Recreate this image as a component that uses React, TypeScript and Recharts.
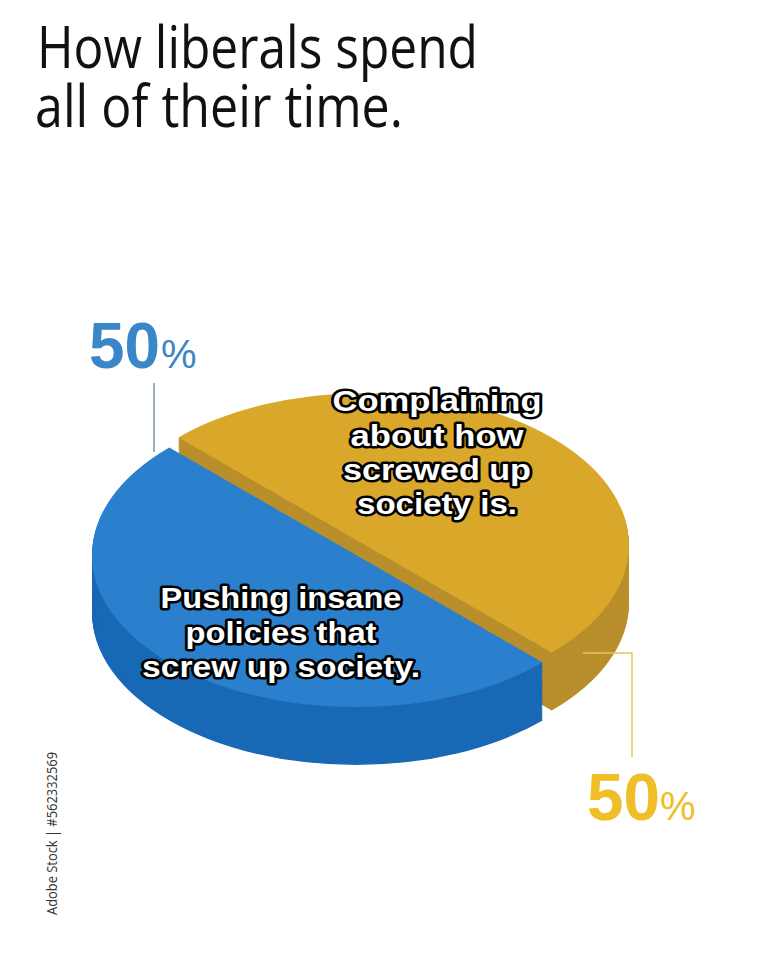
import { PieChart, Pie, Cell } from 'recharts'

// values
const categories = ['Complaining about how screwed up society is.', 'Pushing insane policies that screw up society.']
const shares = [50, 50]
const sliceLines = [
  ['Complaining', 'about how', 'screwed up', 'society is.'],
  ['Pushing insane', 'policies that', 'screw up society.'],
]
const titleLines = ['How liberals spend', 'all of their time.']

const TOP = ['#d9a82b', '#2a80cd']
const SIDE = ['#b98f2c', '#1969b6']
const LABEL = ['#f0be26', '#3a86c8']

// perspective squash + extrusion
const K = 0.576
const CH = Math.round(960 / K)
const DEPTH = 58
const LAYERS = 60
const R = 264
const START = -45
// slice centres on screen (blue slice pulled out to lower-left)
const centres = [
  { x: 365, y: 545 },
  { x: 356, y: 555 },
]

const total = shares.reduce((a, b) => a + b, 0)
const angles = shares.map((v, i) => {
  const before = shares.slice(0, i).reduce((a, b) => a + b, 0)
  return { start: START + (before / total) * 360, end: START + ((before + v) / total) * 360 }
})

const memeText = {
  fontFamily: '"Liberation Sans", Arial, sans-serif',
  fontWeight: 700,
  fontSize: 29,
  fill: '#fff',
  stroke: '#000',
  strokeWidth: 5,
  strokeLinejoin: 'round' as const,
  paintOrder: 'stroke',
}

function sliceLayers(idx: number) {
  const out = []
  for (let i = LAYERS; i >= 0; i--) {
    const y = centres[idx].y + (DEPTH * i) / LAYERS
    out.push(
      <Pie
        key={`${idx}-${i}`}
        data={[{ name: categories[idx], value: shares[idx] }]}
        dataKey="value"
        cx={centres[idx].x}
        cy={y / K}
        outerRadius={R}
        innerRadius={0}
        startAngle={angles[idx].start}
        endAngle={angles[idx].end}
        stroke="none"
        label={false}
        labelLine={false}
        isAnimationActive={false}
      >
        <Cell fill={i === 0 ? TOP[idx] : SIDE[idx]} stroke="none" />
      </Pie>
    )
  }
  return out
}

export default function App() {
  const blocks = [
    { x: 437, ys: [411, 446, 480, 514], widths: [209, 173, 188, 160] },
    { x: 281, ys: [608, 643, 677], widths: [241, 191, 278] },
  ]
  return (
    <div style={{ position: 'absolute', left: 0, top: 0, width: 782, height: 960, background: '#fff', overflow: 'hidden' }}>
      <div style={{ position: 'absolute', left: 0, top: 0, width: 782, height: CH, transform: `scaleY(${K})`, transformOrigin: '0 0' }}>
        <PieChart width={782} height={CH} margin={{ top: 0, right: 0, bottom: 0, left: 0 }}>
          {sliceLayers(0)}
          {sliceLayers(1)}
        </PieChart>
      </div>
      <svg width={782} height={960} style={{ position: 'absolute', left: 0, top: 0 }}>
        <text fontFamily='"Open Sans", sans-serif' fontSize={59} fill="#111" lengthAdjust="spacingAndGlyphs">
          <tspan x={37} y={68} textLength={441} lengthAdjust="spacingAndGlyphs">{titleLines[0]}</tspan>
          <tspan x={35} y={127} textLength={368} lengthAdjust="spacingAndGlyphs">{titleLines[1]}</tspan>
        </text>

        {/* leader lines */}
        <line x1={154} y1={383} x2={154} y2={452} stroke="#7892ad" strokeWidth={1.5} />
        <polyline points="583,653 632,653 632,757" fill="none" stroke="#e6c458" strokeWidth={1.5} />

        {/* percentage labels */}
        <text x={89} y={368} fontFamily='"Liberation Sans", Arial, sans-serif' fontWeight={700} fontSize={64} fill={LABEL[1]} textLength={71} lengthAdjust="spacingAndGlyphs">
          {shares[1]}
        </text>
        <text x={161} y={368} fontFamily='"Liberation Sans", Arial, sans-serif' fontSize={40} fill={LABEL[1]}>%</text>
        <text x={587} y={820} fontFamily='"Liberation Sans", Arial, sans-serif' fontWeight={700} fontSize={66} fill={LABEL[0]} textLength={73} lengthAdjust="spacingAndGlyphs">
          {shares[0]}
        </text>
        <text x={660} y={820} fontFamily='"Liberation Sans", Arial, sans-serif' fontSize={40} fill={LABEL[0]}>%</text>

        {/* slice captions */}
        {sliceLines.map((lines, b) =>
          lines.map((t, j) => (
            <text
              key={`${b}-${j}`}
              x={blocks[b].x - blocks[b].widths[j] / 2}
              y={blocks[b].ys[j]}
              textLength={blocks[b].widths[j]}
              lengthAdjust="spacingAndGlyphs"
              style={memeText}
            >
              {t}
            </text>
          ))
        )}

        <text
          transform="translate(57,915) rotate(-90)"
          fontFamily='"Open Sans", sans-serif'
          fontSize={14}
          fill="#333"
          textLength={163}
          lengthAdjust="spacingAndGlyphs"
        >
          Adobe Stock | #562332569
        </text>
      </svg>
    </div>
  )
}
